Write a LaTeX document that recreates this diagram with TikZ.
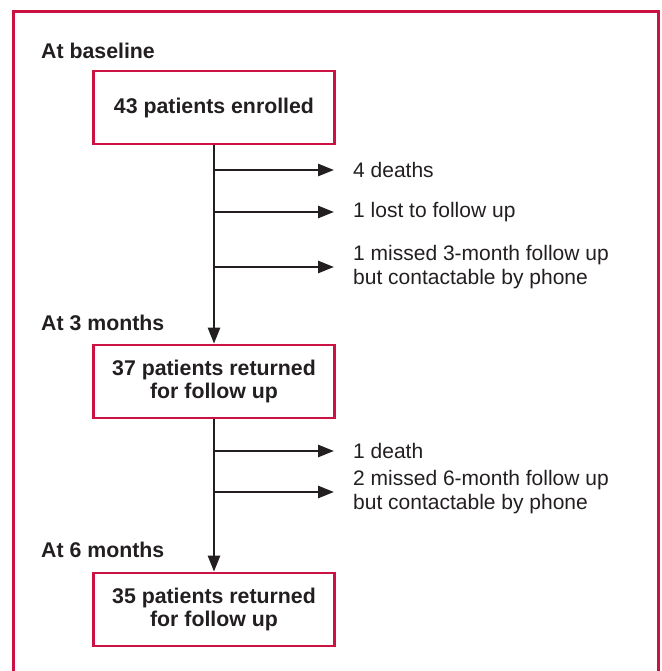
\documentclass[tikz,border=0pt]{standalone}
\usepackage{fontspec}
\setmainfont{Liberation Sans}
\usepackage{tikz}
\usetikzlibrary{arrows.meta}
\definecolor{frame}{RGB}{204,18,66}
\definecolor{ink}{RGB}{35,31,32}

\begin{document}
\begin{tikzpicture}[x=1pt,y=-1pt,
        stage/.style={draw=frame,line width=2.7pt,minimum width=241pt,minimum height=73pt,
                      align=center,text=ink,font=\bfseries\fontsize{21.3}{23}\selectfont},
        when/.style={anchor=west,text=ink,inner sep=0pt,font=\bfseries\fontsize{21.3}{23}\selectfont},
        loss/.style={anchor=west,align=left,text=ink,inner sep=0pt,font=\fontsize{21}{24}\selectfont},
        flow/.style={draw=ink,line width=2.6pt,-{Triangle[length=16pt,width=12pt]}},
        branch/.style={flow,shorten >=19pt}]
            \useasboundingbox (0,0) rectangle (661,671);
            \draw[frame,line width=3pt] (13.5,11.5) rectangle (658.5,700);
            % time points
            \node[when] (lbase) at (41,51) {At baseline};
            \node[when] (l3) at (41,323) {At 3 months};
            \node[when] (l6) at (41,550) {At 6 months};
            % boxes
            \node[stage] (base) at (214,107.5) {43 patients enrolled};
            \node[stage] (m3) at (214,381.5) {37 patients returned\\for follow up};
            \node[stage] (m6) at (214,609.5) {35 patients returned\\for follow up};
            % losses
            \node[loss] (deaths) at (353,170) {4 deaths};
            \node[loss] (lost) at (353,212) {1 lost to follow up};
            \node[loss] (miss3) at (353,267) {1 missed 3-month follow up\\but contactable by phone};
            \node[loss] (death) at (353,451) {1 death};
            \node[loss] (miss6) at (353,492) {2 missed 6-month follow up\\but contactable by phone};
            % connectors
            \draw[flow] (base.south) -- (m3.north);
            \draw[flow] (m3.south) -- (m6.north);
            \draw[branch] (base.south |- deaths.west) -- (deaths.west);
            \draw[branch] (base.south |- lost.west) -- (lost.west);
            \draw[branch] (base.south |- miss3.west) -- (miss3.west);
            \draw[branch] (m3.south |- death.west) -- (death.west);
            \draw[branch] (m3.south |- miss6.west) -- (miss6.west);
        \end{tikzpicture}
\end{document}
